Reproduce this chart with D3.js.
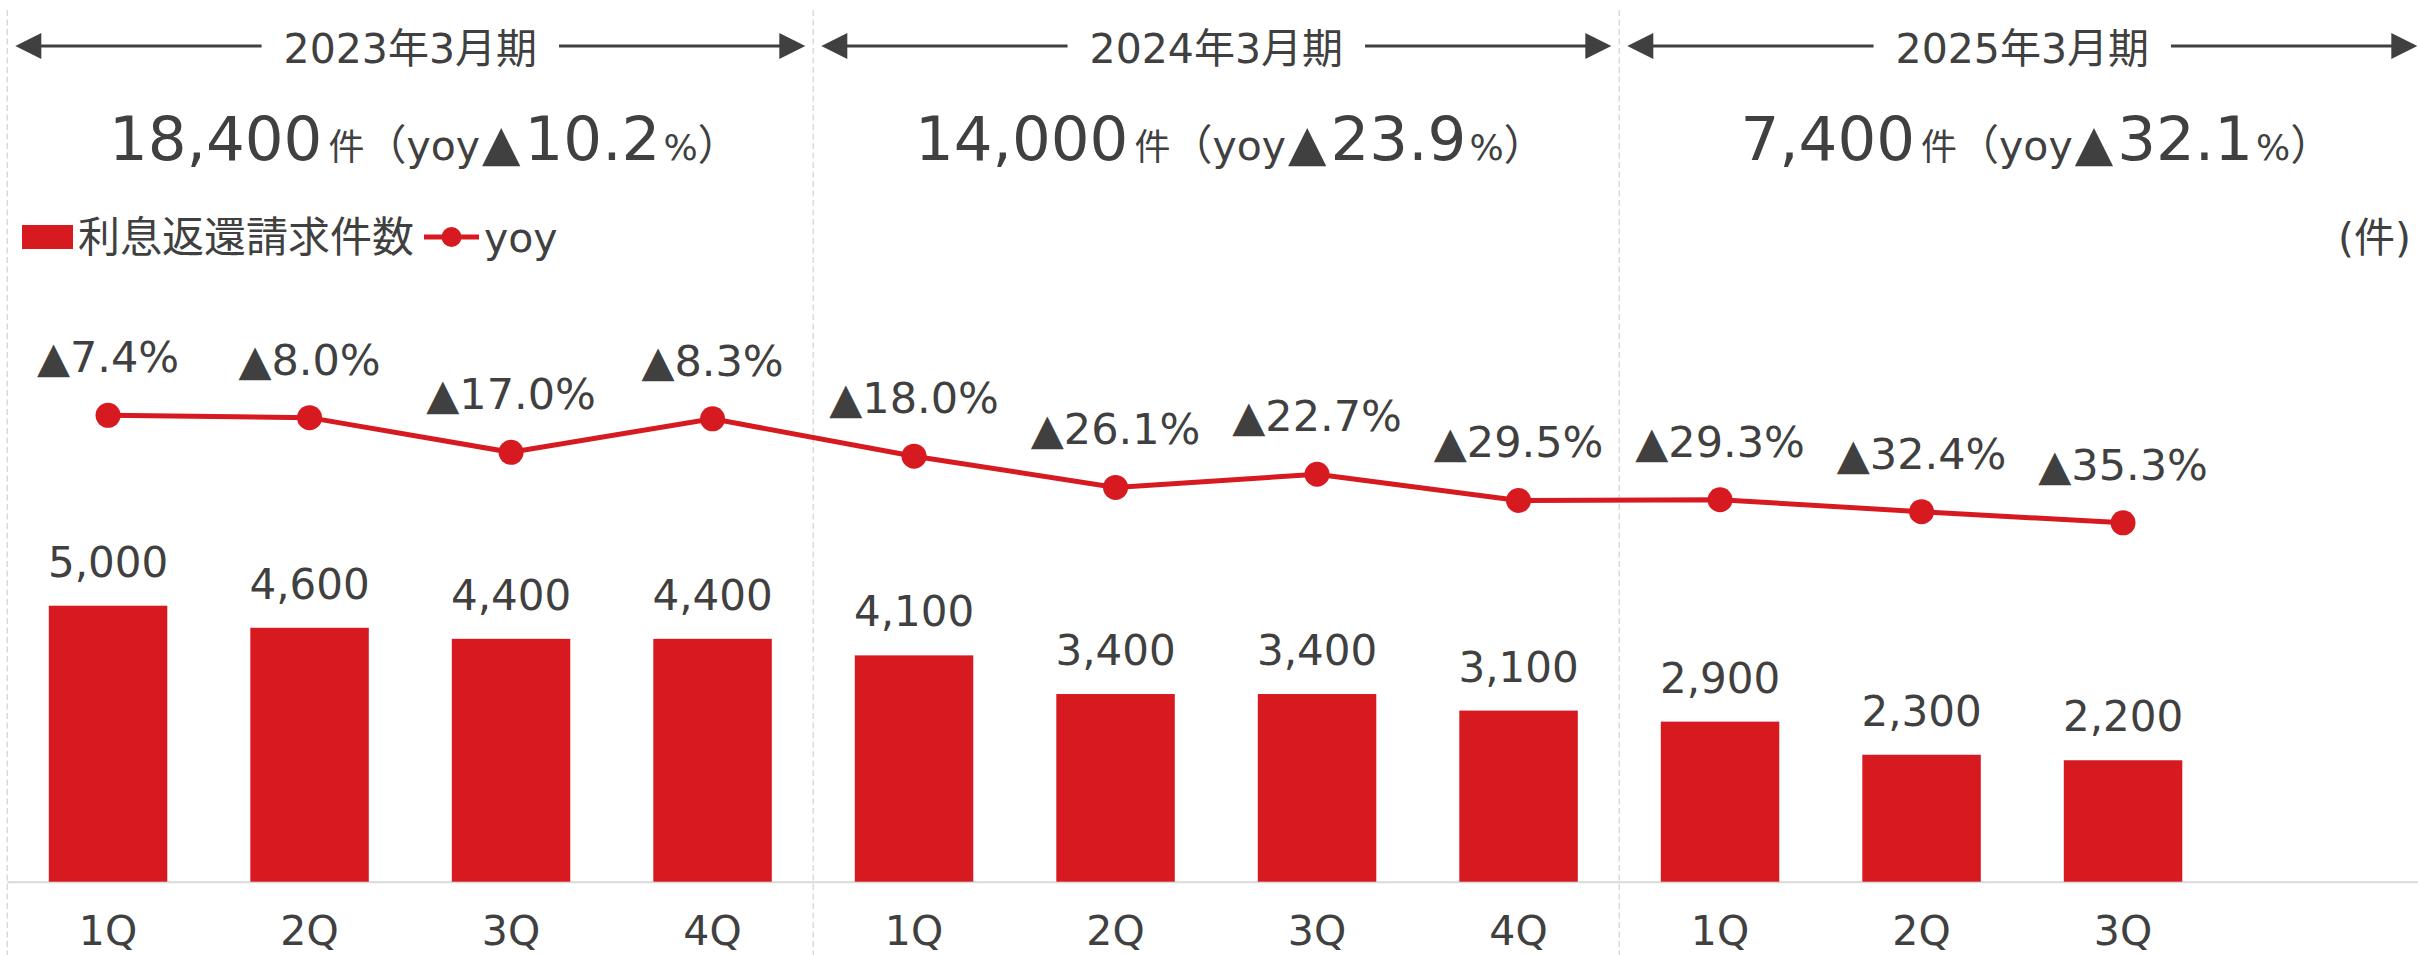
<!DOCTYPE html>
<html>
<head>
<meta charset="utf-8">
<script src="https://cdn.jsdelivr.net/npm/d3@7"></script>
<style>
  html, body { margin: 0; padding: 0; background: #fff; }
  svg { display: block; }
  text { font-family: "DejaVu Sans", "Noto Sans CJK JP", sans-serif; fill: #404040; }
</style>
</head>
<body>
<svg id="chart" width="2418" height="955"></svg>
<script>
// ---- data ----
const periods = ["2023年3月期", "2024年3月期", "2025年3月期"];
const periodTotals = [18400, 14000, 7400];
const periodYoy = [-10.2, -23.9, -32.1];
const quarters = ["1Q", "2Q", "3Q", "4Q", "1Q", "2Q", "3Q", "4Q", "1Q", "2Q", "3Q"];
const counts = [5000, 4600, 4400, 4400, 4100, 3400, 3400, 3100, 2900, 2300, 2200];
const yoy = [-7.4, -8.0, -17.0, -8.3, -18.0, -26.1, -22.7, -29.5, -29.3, -32.4, -35.3];
const seriesNames = ["利息返還請求件数", "yoy"];
const unitLabel = "(件)";

// ---- style ----
const RED = "#d71920";
const GRAY = "#404040";
const W = 2418, H = 955;
const svg = d3.select("#chart");

// ---- scales ----
const slotsPerPeriod = 4;
const step = 201.5;
const x0 = 7.3;
const idx = quarters.map((d, i) => i);
const x = d3.scaleBand()
  .domain(idx)
  .range([x0, x0 + idx.length * step])
  .paddingInner(0.412)
  .paddingOuter(0.206);

const baseY = 881.7;
const yBar = d3.scaleLinear().domain([0, 5000]).range([baseY, 605.7]);
const yLine = d3.scaleLinear().domain([0, -40]).range([386.8, 386.8 + 40 * 3.854]);

// ---- period dividers ----
const periodStart = i => x0 + i * slotsPerPeriod * x.step();
const periodEnd = i => periodStart(i) + slotsPerPeriod * x.step();

svg.append("g").selectAll("line")
  .data(d3.range(periods.length + 1))
  .join("line")
  .attr("x1", i => periodStart(i)).attr("x2", i => periodStart(i))
  .attr("y1", 10).attr("y2", H)
  .attr("stroke", "#d9d9d9").attr("stroke-width", 1.5)
  .attr("stroke-dasharray", "6,3.5");

// ---- axis baseline ----
svg.append("line")
  .attr("x1", x0).attr("x2", W)
  .attr("y1", baseY + 0.5).attr("y2", baseY + 0.5)
  .attr("stroke", "#d9d9d9").attr("stroke-width", 2);

// ---- period headers with arrows ----
const headY = 46;
const hdr = svg.append("g");
periods.forEach((p, i) => {
  const s = periodStart(i), e = periodEnd(i), c = (s + e) / 2;
  const t = hdr.append("text")
    .attr("x", c).attr("y", 63).attr("text-anchor", "middle")
    .attr("font-size", 41).text(p);
  const bb = t.node().getBBox();
  const gap = 22, tipPad = 8, ah = 26, aw = 13;
  const L1 = s + tipPad, L2 = bb.x - gap;
  const R1 = bb.x + bb.width + gap, R2 = e - tipPad;
  hdr.append("line").attr("x1", L1 + ah - 2).attr("x2", L2).attr("y1", headY).attr("y2", headY)
    .attr("stroke", GRAY).attr("stroke-width", 3);
  hdr.append("line").attr("x1", R1).attr("x2", R2 - ah + 2).attr("y1", headY).attr("y2", headY)
    .attr("stroke", GRAY).attr("stroke-width", 3);
  hdr.append("path").attr("d", `M${L1},${headY} L${L1 + ah},${headY - aw} L${L1 + ah},${headY + aw} Z`).attr("fill", GRAY);
  hdr.append("path").attr("d", `M${R2},${headY} L${R2 - ah},${headY - aw} L${R2 - ah},${headY + aw} Z`).attr("fill", GRAY);

  // summary line
  const st = hdr.append("text").attr("x", 0).attr("y", 160).attr("text-anchor", "start");
  st.append("tspan").attr("font-size", 61).text(d3.format(",")(periodTotals[i]));
  st.append("tspan").attr("font-size", 36).attr("dx", 6).text("件");
  st.append("tspan").attr("font-size", 42).text("（");
  st.append("tspan").attr("font-size", 41).text("yoy");
  st.append("tspan").attr("font-size", 50).attr("dx", 2).text("▲");
  st.append("tspan").attr("font-size", 61).attr("dx", 4).text(Math.abs(periodYoy[i]).toFixed(1));
  st.append("tspan").attr("font-size", 36).attr("dx", 3).text("%");
  st.append("tspan").attr("font-size", 42).text("）");
  const sb = st.node().getBBox();
  st.attr("x", c + 14 - sb.width / 2);
});

// ---- legend ----
const lg = svg.append("g");
lg.append("rect").attr("x", 22).attr("y", 225).attr("width", 51).attr("height", 24).attr("fill", RED);
const lt = lg.append("text").attr("x", 78).attr("y", 252).attr("font-size", 42).text(seriesNames[0]);
const lbb = lt.node().getBBox();
const mx = lbb.x + lbb.width + 10;
lg.append("line").attr("x1", mx).attr("x2", mx + 55).attr("y1", 237).attr("y2", 237)
  .attr("stroke", RED).attr("stroke-width", 5);
lg.append("circle").attr("cx", mx + 27.5).attr("cy", 237).attr("r", 10).attr("fill", RED);
lg.append("text").attr("x", mx + 60).attr("y", 252).attr("font-size", 41).text(seriesNames[1]);

svg.append("text").attr("x", 2411).attr("y", 252).attr("text-anchor", "end")
  .attr("font-size", 41).text(unitLabel);

// ---- bars ----
svg.append("g").selectAll("rect")
  .data(counts)
  .join("rect")
  .attr("x", (d, i) => x(i))
  .attr("width", x.bandwidth())
  .attr("y", d => yBar(d))
  .attr("height", d => baseY - yBar(d))
  .attr("fill", RED);

svg.append("g").selectAll("text")
  .data(counts)
  .join("text")
  .attr("x", (d, i) => x(i) + x.bandwidth() / 2)
  .attr("y", d => yBar(d) - 29)
  .attr("text-anchor", "middle")
  .attr("font-size", 42)
  .text(d => d3.format(",")(d));

// ---- x axis labels ----
svg.append("g").selectAll("text")
  .data(quarters)
  .join("text")
  .attr("x", (d, i) => x(i) + x.bandwidth() / 2)
  .attr("y", 945)
  .attr("text-anchor", "middle")
  .attr("font-size", 41)
  .text(d => d);

// ---- yoy line ----
const line = d3.line()
  .x((d, i) => x(i) + x.bandwidth() / 2)
  .y(d => yLine(d));
svg.append("path").datum(yoy).attr("d", line)
  .attr("fill", "none").attr("stroke", RED).attr("stroke-width", 5);
svg.append("g").selectAll("circle")
  .data(yoy)
  .join("circle")
  .attr("cx", (d, i) => x(i) + x.bandwidth() / 2)
  .attr("cy", d => yLine(d))
  .attr("r", 12.5)
  .attr("fill", RED);
svg.append("g").selectAll("text")
  .data(yoy)
  .join("text")
  .attr("x", (d, i) => x(i) + x.bandwidth() / 2)
  .attr("y", d => yLine(d) - 43)
  .attr("text-anchor", "middle")
  .attr("font-size", 43)
  .text(d => "▲" + Math.abs(d).toFixed(1) + "%");
</script>
</body>
</html>
